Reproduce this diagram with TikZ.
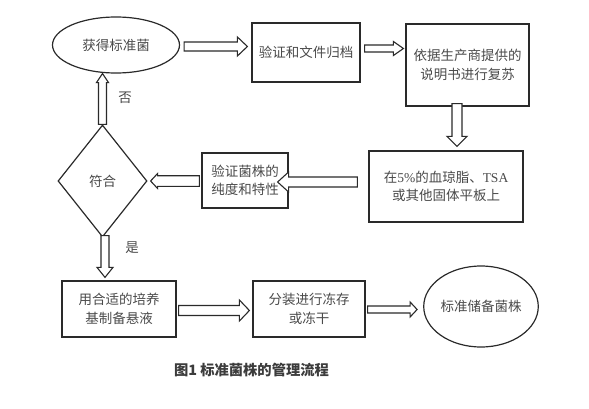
\documentclass[tikz,border=0pt]{standalone}
\usepackage{fontspec}
\setmainfont{Liberation Serif}
\newfontfamily\cjk{Noto Sans CJK SC}
\usetikzlibrary{shapes.geometric,calc}
\definecolor{txt}{HTML}{4A4A4A}
\definecolor{ln}{HTML}{2A2A2A}
\definecolor{cap}{HTML}{3C3C3C}
\tikzset{
  box/.style={draw=ln, line width=1.2pt, rectangle, inner sep=0pt, align=center,
    text=txt, font=\fontsize{13.5}{18.5}\selectfont\cjk},
  oval/.style={box, ellipse},
  dia/.style={box, diamond},
  lbl/.style={text=txt, font=\fontsize{13.5}{16}\selectfont\cjk, inner sep=0pt},
  barrow/.style n args={3}{draw=ln, line width=1.1pt, fill=white, to path={
    let \p1=(\tikztostart), \p2=(\tikztotarget),
        \n1={veclen(\x2-\x1,\y2-\y1)},
        \n2={(\x2-\x1)/\n1}, \n3={(\y2-\y1)/\n1},
        \n4={\n1-#3} in
    ({\x1-#1*\n3},{\y1+#1*\n2})
    -- ({\x1+\n4*\n2-#1*\n3},{\y1+\n4*\n3+#1*\n2})
    -- ({\x1+\n4*\n2-#2*\n3},{\y1+\n4*\n3+#2*\n2})
    -- (\x2,\y2)
    -- ({\x1+\n4*\n2+#2*\n3},{\y1+\n4*\n3-#2*\n2})
    -- ({\x1+\n4*\n2+#1*\n3},{\y1+\n4*\n3-#1*\n2})
    -- ({\x1+#1*\n3},{\y1-#1*\n2}) -- cycle}}
}
\begin{document}
\begin{tikzpicture}[x=1pt,y=-1pt]
\useasboundingbox (0,0) rectangle (589,409);
\node[oval, minimum width=127pt, minimum height=56pt] (e1) at (116,45) {获得标准菌};
\node[box, minimum width=108pt, minimum height=59pt] (b2) at (306,52.5) {验证和文件归档};
\node[box, minimum width=123pt, minimum height=82pt] (b3) at (467.5,65) {依据生产商提供的\\说明书进行复苏};
\node[box, minimum width=154pt, minimum height=71pt] (b4) at (446,186.5) {在{\rmfamily 5\%}的血琼脂、{\rmfamily TSA}\\或其他固体平板上};
\node[box, minimum width=86pt, minimum height=55pt] (b5) at (245,180.5) {验证菌株的\\纯度和特性};
\node[dia, minimum width=89pt, minimum height=112pt] (d) at (102.5,181) {符合};
\node[box, minimum width=114pt, minimum height=56pt] (b6) at (119,309) {用合适的培养\\基制备悬液};
\node[box, minimum width=112pt, minimum height=56pt] (b7) at (309,309) {分装进行冻存\\或冻干};
\node[oval, minimum width=114pt, minimum height=81pt] (e2) at (481,306.5) {标准储备菌株};
\node[lbl] (no) at (125,98) {否};
\node[lbl] (yes) at (132,248) {是};
\node[inner sep=0pt, text=cap, font=\fontsize{14.3}{16}\selectfont\cjk\bfseries] (cap) at (251.5,370) {图1 标准菌株的管理流程};
% arrows
\draw[barrow={4.5}{9.5}{10}] ([xshift=4pt]e1.east |- 0,46.5) to ([xshift=-4pt]b2.west |- 0,46.5);
\draw[barrow={3.5}{7}{10}] ([xshift=4pt]b2.east |- 0,48.5) to ([xshift=-2pt]b3.west |- 0,48.5);
\draw[barrow={5}{10}{10}] ([yshift=3pt]b3.south -| 457,0) to ([yshift=4pt]b4.north -| 457,0);
\draw[barrow={5}{10}{11}] ([xshift=-11pt]b4.west |- 0,182) to ([xshift=-11pt]b5.east |- 0,182);
\draw[barrow={5.3}{7.5}{7}] ([xshift=-2pt]b5.west |- 0,181) to ([xshift=3pt]d.east |- 0,181);
\draw[barrow={4}{6}{9}] (d.north) to (e1.south -| d.north);
\draw[barrow={4}{8}{10}] ([yshift=2pt]d.south -| 105,0) to ([yshift=3pt]b6.north -| 105,0);
\draw[barrow={5}{10.5}{10}] ([xshift=2pt]b6.east |- 0,310.5) to ([xshift=-3pt]b7.west |- 0,310.5);
\draw[barrow={3.5}{7.5}{7}] ([xshift=2pt]b7.east |- 0,309.5) to ([xshift=-6pt]e2.west |- 0,309.5);
\end{tikzpicture}
\end{document}
